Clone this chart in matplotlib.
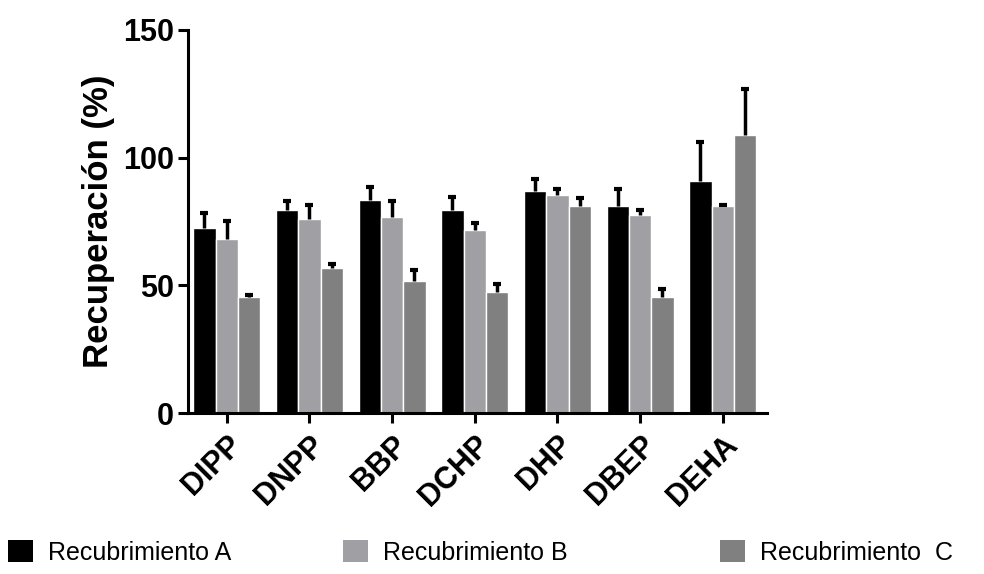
import matplotlib
matplotlib.use("Agg")
import matplotlib.pyplot as plt
import matplotlib.patches as mpatches
import numpy as np

plt.rcParams['font.family'] = ['Liberation Sans', 'DejaVu Sans']

compuestos = ['DIPP', 'DNPP', 'BBP', 'DCHP', 'DHP', 'DBEP', 'DEHA']

# recuperacion media (%) y desviacion (solo hacia arriba)
rec_a = [72.3, 79.6, 83.6, 79.4, 87.1, 81.2, 91.0]
err_a = [6.2, 3.4, 5.0, 5.4, 4.6, 6.5, 15.1]
rec_b = [68.0, 76.0, 76.9, 71.7, 85.4, 77.4, 80.9]
err_b = [7.2, 5.3, 6.0, 2.8, 2.4, 2.2, 0.5]
rec_c = [45.6, 56.8, 51.9, 47.6, 81.2, 45.3, 108.7]
err_c = [0.5, 1.5, 4.3, 2.9, 3.2, 3.3, 18.2]

series = [('Recubrimiento A', rec_a, err_a, '#000000'),
          ('Recubrimiento B', rec_b, err_b, '#a0a0a4'),
          ('Recubrimiento  C', rec_c, err_c, '#808080')]

fig = plt.figure(figsize=(9.84, 5.74), dpi=100)
ax = fig.add_axes([0.191, 0.280, 0.588, 0.668])

x = np.arange(len(compuestos))
w = 0.27
for i, (nombre, vals, errs, col) in enumerate(series):
    pos = x + (i - 1) * w
    ax.bar(pos, vals, width=w, color=col, edgecolor='white', linewidth=1, zorder=2)
    eb = ax.errorbar(pos, vals, yerr=[np.zeros(len(errs)), errs], fmt='none',
                     ecolor='black', elinewidth=2.5, capsize=3, capthick=3, zorder=3)
    # solo el tope superior
    eb[1][0].set_visible(False)

ax.set_xlim(-0.47, 6.53)
ax.set_ylim(0, 150)
ax.set_yticks([0, 50, 100, 150])
ax.set_xticks(x)
ax.set_xticklabels(compuestos, rotation=45, ha='right', rotation_mode='anchor',
                   fontsize=22, fontweight='bold')
for t in ax.get_yticklabels():
    t.set_fontsize(22)
    t.set_fontweight('bold')
ax.set_ylabel('Recuperación (%)', fontsize=25, fontweight='bold', labelpad=6)

for s in ['top', 'right']:
    ax.spines[s].set_visible(False)
for s in ['left', 'bottom']:
    ax.spines[s].set_linewidth(2.2)
ax.tick_params(axis='both', width=2.2, length=7, direction='out')
ax.tick_params(axis='y', pad=3)
ax.tick_params(axis='x', pad=5)

# leyenda inferior: una entrada por recubrimiento
x_leg = [8, 343, 720]
for (nombre, vals, errs, col), xp in zip(series, x_leg):
    h = mpatches.Patch(facecolor=col, edgecolor='none')
    fig.legend([h], [nombre], loc='center left', bbox_to_anchor=(xp / 984, 0.038),
               frameon=False, fontsize=18, handlelength=1.0, handleheight=1.0,
               handletextpad=0.6, borderpad=0, borderaxespad=0)

fig.savefig('out.png', dpi=100)
